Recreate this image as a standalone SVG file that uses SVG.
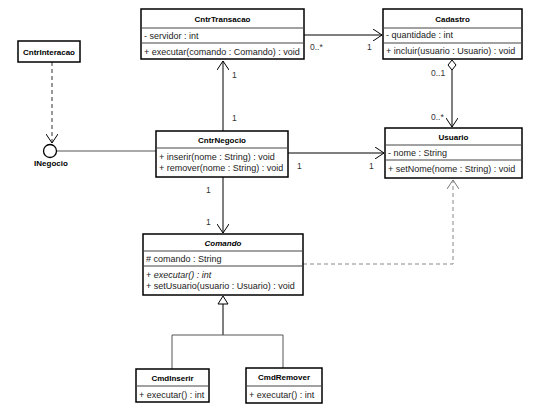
<svg xmlns="http://www.w3.org/2000/svg" width="546" height="418" viewBox="0 0 546 418">
<defs>
<style>
.box{fill:#fff;stroke:#000;stroke-width:1.5}
.div{stroke:#444;stroke-width:1}
.t{font-family:"Liberation Sans",Arial,sans-serif;font-size:8px;font-weight:bold;fill:#000;text-anchor:middle}
.m{font-family:"Liberation Sans",Arial,sans-serif;font-size:9px;fill:#222}
.lb{font-family:"Liberation Sans",Arial,sans-serif;font-size:8.5px;fill:#333}
.c{stroke:#000;stroke-width:1;fill:none}
.g{stroke:#555;stroke-width:1;fill:none}
.d{stroke:#333;stroke-width:1;fill:none;stroke-dasharray:4,3}
.dg{stroke:#888;stroke-width:1;fill:none;stroke-dasharray:4,3}
</style>
<marker id="open" viewBox="0 0 10 12" refX="9" refY="6" markerWidth="10" markerHeight="12" markerUnits="userSpaceOnUse" orient="auto">
<path d="M0,0 L9,6 L0,12" fill="none" stroke="#000" stroke-width="1"/>
</marker>
<marker id="openg" viewBox="0 0 10 12" refX="9" refY="6" markerWidth="10" markerHeight="12" markerUnits="userSpaceOnUse" orient="auto">
<path d="M0,0 L9,6 L0,12" fill="none" stroke="#777" stroke-width="1"/>
</marker>
</defs>
<rect width="546" height="418" fill="#fff"/>
<g id="connectors">
<line class="c" x1="223" y1="131" x2="223" y2="61" marker-end="url(#open)"/>
<line class="c" x1="304" y1="35" x2="382" y2="35" marker-end="url(#open)"/>
<path d="M452,60 L456,65 L452,70 L448,65 Z" fill="#fff" stroke="#000" stroke-width="1"/>
<line class="c" x1="452" y1="70" x2="452" y2="127" marker-end="url(#open)"/>
<line class="c" x1="288" y1="153" x2="384" y2="153" marker-end="url(#open)"/>
<line class="c" x1="223" y1="177" x2="223" y2="233" marker-end="url(#open)"/>
<path class="dg" d="M303,264 H453 V180" marker-end="url(#openg)"/>
<path d="M223,296 L228,304 L218,304 Z" fill="#fff" stroke="#000" stroke-width="1"/>
<line class="c" x1="223" y1="304" x2="223" y2="335"/>
<path class="g" d="M172,369 V335 H283 V368"/>
<line class="d" x1="52" y1="62" x2="52" y2="143" marker-end="url(#open)"/>
<line class="g" x1="57" y1="151" x2="156" y2="151"/>
<text class="lb" x="310" y="50">0..*</text>
<text class="lb" x="367" y="50">1</text>
<text class="lb" x="431" y="76">0..1</text>
<text class="lb" x="431" y="120">0..*</text>
<text class="lb" x="232" y="78">1</text>
<text class="lb" x="232" y="121">1</text>
<text class="lb" x="297" y="169">1</text>
<text class="lb" x="369" y="169">1</text>
<text class="lb" x="206" y="193">1</text>
<text class="lb" x="206" y="225">1</text>
</g>
<g id="CntrTransacao">
<rect class="box" x="141" y="9" width="163" height="50"/>
<line class="div" x1="141" y1="28" x2="304" y2="28"/>
<line class="div" x1="141" y1="43" x2="304" y2="43"/>
<text class="t" x="222.5" y="22">CntrTransacao</text>
<text class="m" x="144" y="39">- servidor : int</text>
<text class="m" x="144" y="55">+ executar(comando : Comando) : void</text>
</g>
<g id="Cadastro">
<rect class="box" x="383" y="9" width="139" height="50"/>
<line class="div" x1="383" y1="28" x2="522" y2="28"/>
<line class="div" x1="383" y1="43" x2="522" y2="43"/>
<text class="t" x="452.5" y="22">Cadastro</text>
<text class="m" x="386" y="38">- quantidade : int</text>
<text class="m" x="386" y="54">+ incluir(usuario : Usuario) : void</text>
</g>
<g id="CntrInteracao">
<rect class="box" x="18" y="41" width="62" height="21"/>
<text class="t" x="49" y="55">CntrInteracao</text>
</g>
<g id="INegocio">
<circle cx="50" cy="151" r="6.5" fill="#fff" stroke="#000" stroke-width="1.3"/>
<text class="t" x="51" y="166">INegocio</text>
</g>
<g id="CntrNegocio">
<rect class="box" x="156" y="131" width="132" height="46"/>
<line class="div" x1="156" y1="148" x2="288" y2="148"/>
<text class="t" x="222" y="143">CntrNegocio</text>
<text class="m" x="159" y="160">+ inserir(nome : String) : void</text>
<text class="m" x="159" y="171">+ remover(nome : String) : void</text>
</g>
<g id="Usuario">
<rect class="box" x="385" y="128" width="137" height="50"/>
<line class="div" x1="385" y1="145" x2="522" y2="145"/>
<line class="div" x1="385" y1="160" x2="522" y2="160"/>
<text class="t" x="453.5" y="140">Usuario</text>
<text class="m" x="388" y="156">- nome : String</text>
<text class="m" x="388" y="172">+ setNome(nome : String) : void</text>
</g>
<g id="Comando">
<rect class="box" x="143" y="234" width="160" height="61"/>
<line class="div" x1="143" y1="251" x2="303" y2="251"/>
<line class="div" x1="143" y1="266" x2="303" y2="266"/>
<text class="t" x="223" y="246" font-style="italic">Comando</text>
<text class="m" x="146" y="262"># comando : String</text>
<text class="m" x="146" y="278">+ <tspan font-style="italic">executar() : int</tspan></text>
<text class="m" x="146" y="289">+ setUsuario(usuario : Usuario) : void</text>
</g>
<g id="CmdInserir">
<rect class="box" x="136" y="369" width="73" height="33"/>
<line class="div" x1="136" y1="386" x2="209" y2="386"/>
<text class="t" x="172.5" y="381">CmdInserir</text>
<text class="m" x="139" y="398">+ executar() : int</text>
</g>
<g id="CmdRemover">
<rect class="box" x="246" y="368" width="76" height="35"/>
<line class="div" x1="246" y1="386" x2="322" y2="386"/>
<text class="t" x="284" y="380">CmdRemover</text>
<text class="m" x="249" y="398">+ executar() : int</text>
</g>
</svg>
